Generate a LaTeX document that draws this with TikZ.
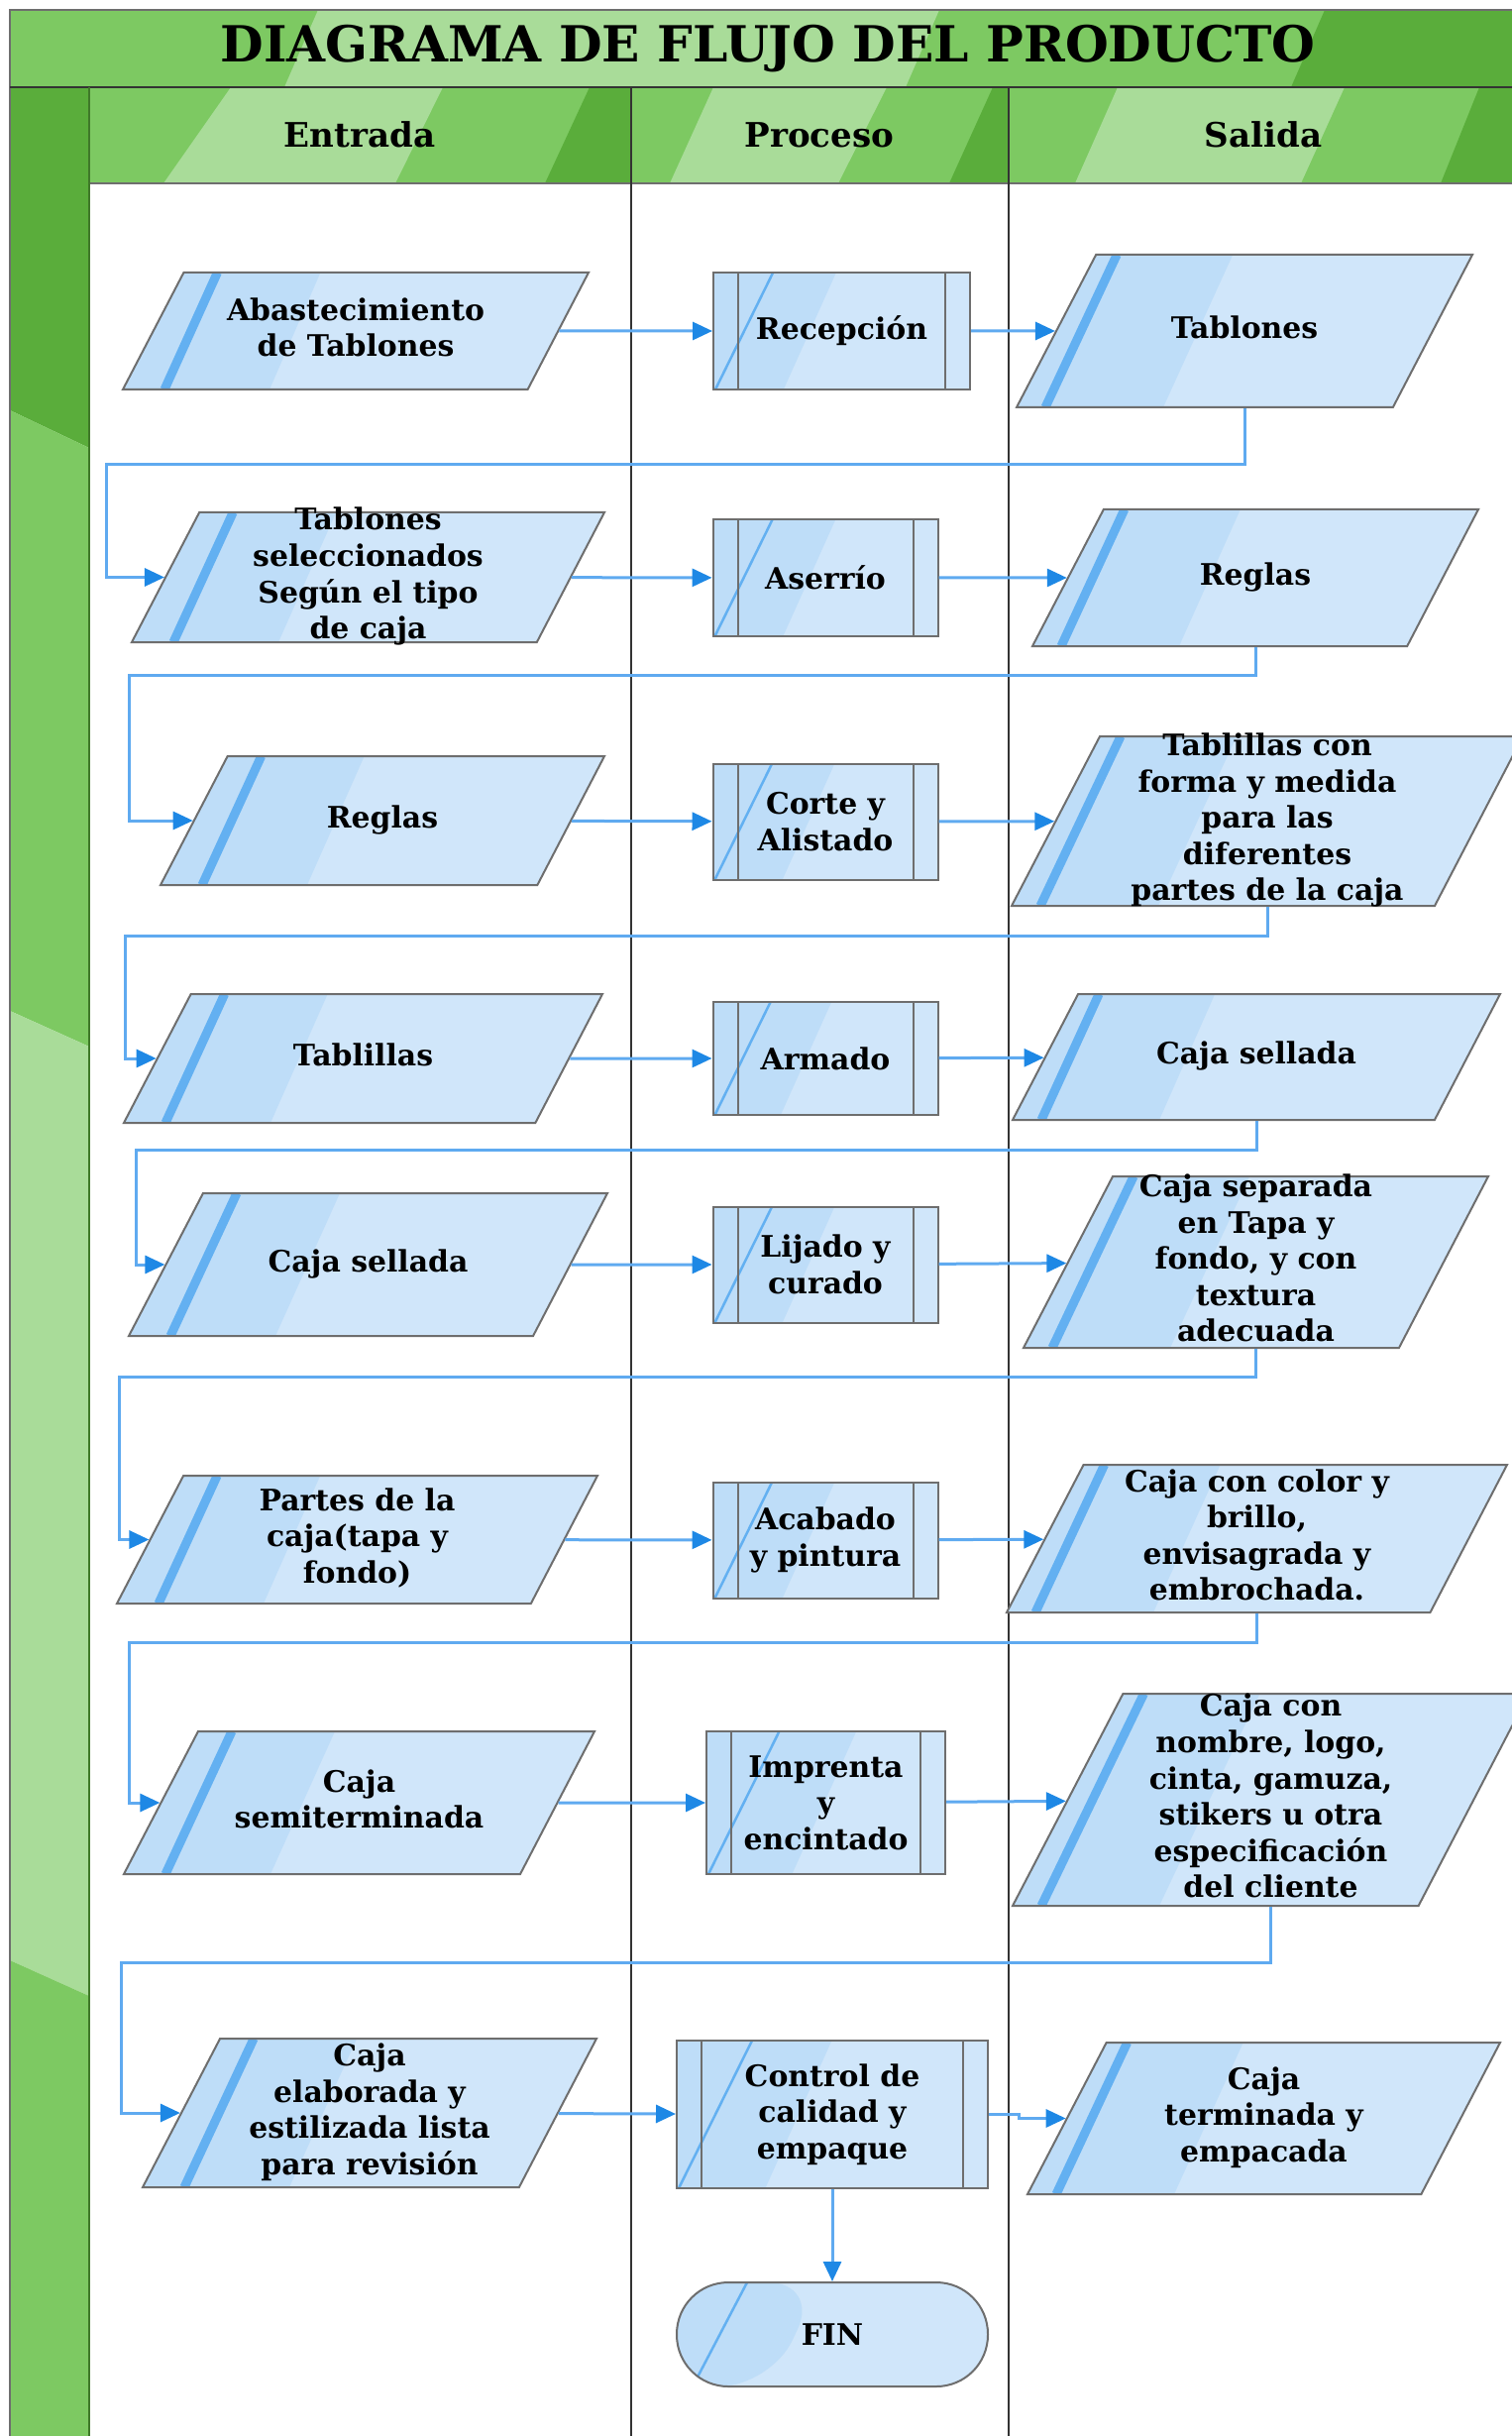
\documentclass[tikz,border=0pt]{standalone}
\usepackage{fontspec}
\setmainfont{DejaVu Serif}
\usepackage{xcolor}
\usepackage{tikz}
\usetikzlibrary{shapes.geometric, arrows.meta, calc}

\definecolor{verdemedio}{HTML}{7DC962}
\definecolor{verdeclaro}{HTML}{A9DC99}
\definecolor{verdeoscuro}{HTML}{5AAD3B}
\definecolor{azulclaro}{HTML}{D0E6FA}
\definecolor{azuloscuro}{HTML}{BEDDF8}
\definecolor{franja}{HTML}{63B0F1}
\definecolor{bordegris}{HTML}{6E6E6E}
\definecolor{linea}{HTML}{5FAAF0}
\definecolor{punta}{HTML}{1E88E5}

\newcommand{\textoformas}{\fontsize{8.5}{10.4}\selectfont\bfseries}
% text box of a fixed height, so the slanted sides keep their angle
\newcommand{\caja}[2]{\vbox to #1{\vss\hbox{\begin{tabular}{@{}c@{}}#2\end{tabular}}\vss}}

% shading inside the data shapes
\newcommand{\sombradatos}[1]{%
  \fill [azuloscuro] let \p1=(path picture bounding box.south west),
    \p2=(path picture bounding box.north east), \n1={0.5206*(\y2-\y1)} in
    (\x1-1mm,\y1) -- (\x1-1mm,\y2) -- (\x1+\n1+13.8mm,\y2) -- (\x1+14.8mm,\y1) -- cycle;
  \draw [franja, line width=0.9mm] let \p1=(path picture bounding box.south west),
    \p2=(path picture bounding box.north east), \n1={0.5206*(\y2-\y1)} in
    (\x1+#1,\y1) -- (\x1+\n1+#1-0.8mm,\y2);
}
% shading inside the process boxes
\newcommand{\sombraproceso}{%
  \fill [azuloscuro] let \p1=(path picture bounding box.south west),
    \p2=(path picture bounding box.north east), \n1={\y2-\y1} in
    (\x1,\y1) -- (\x1,\y2) -- (\x1+1.05*\n1,\y2) -- (\x1+0.6*\n1,\y1) -- cycle;
  \draw [franja, line width=0.25mm] let \p1=(path picture bounding box.south west),
    \p2=(path picture bounding box.north east), \n1={\y2-\y1} in
    (\x1+0.2mm,\y1) -- (\x1+0.51*\n1,\y2);
  \draw [bordegris, line width=0.2mm]
    ([xshift=2.5mm]path picture bounding box.south west) -- ([xshift=2.5mm]path picture bounding box.north west)
    ([xshift=-2.5mm]path picture bounding box.south east) -- ([xshift=-2.5mm]path picture bounding box.north east);
}
% shading inside the end terminal
\newcommand{\sombrafin}{%
  \fill [azuloscuro] let \p1=(path picture bounding box.south west),
    \p2=(path picture bounding box.north east) in
    (\x1,\y1) -- (\x1,\y2) -- (\x1+14.4mm,\y2) -- (\x1+9.5mm,\y1) -- cycle;
  \draw [franja, line width=0.25mm] let \p1=(path picture bounding box.south west),
    \p2=(path picture bounding box.north east) in
    (\x1+1.6mm,\y1) -- (\x1+7.1mm,\y2);
}

\tikzstyle{datos} = [trapezium, trapezium left angle=62.5, trapezium right angle=117.5, trapezium stretches body=true, inner sep=0pt, draw=bordegris, line width=0.2mm, fill=azulclaro, font=\textoformas]
\tikzstyle{entrada} = [datos, path picture={\sombradatos{4.2mm}}]
\tikzstyle{salida} = [datos, path picture={\sombradatos{2.9mm}}]
\tikzstyle{proceso} = [rectangle, inner sep=0pt, draw=bordegris, line width=0.2mm, fill=azulclaro, align=center, font=\textoformas, path picture={\sombraproceso}]
\tikzstyle{terminal} = [rectangle, rounded corners=5.2mm, inner sep=0pt, minimum width=31.4mm, minimum height=10.5mm, draw=bordegris, line width=0.2mm, fill=azulclaro, font=\textoformas, path picture={\sombrafin}]
\tikzstyle{flecha} = [line width=0.3mm, draw=linea, -{Triangle[length=2mm, width=1.8mm, color=punta]}]
\tikzstyle{marco} = [line width=0.2mm, draw=black!80]

\begin{document}
\begin{tikzpicture}[x=0.1mm, y=-0.1mm]
	\useasboundingbox (0,0) rectangle (1525,2458);
	\fill [white] (0,0) rectangle (1525,2458);
	
	% Title band
	\fill [verdemedio] (10,10) rectangle (1530,88);
	\fill [verdeclaro] (321,10) -- (948,10) -- (914,88) -- (287,88) -- cycle;
	\fill [verdeoscuro] (1337,10) -- (1530,10) -- (1530,88) -- (1303,88) -- cycle;
	
	% Lane headers
	\fill [verdemedio] (90,88) rectangle (1530,185);
	\fill [verdeclaro] (233,88) -- (447,88) -- (399,185) -- (165,185) -- cycle;
	\fill [verdeoscuro] (595,88) -- (637,88) -- (637,185) -- (550,185) -- cycle;
	\fill [verdeclaro] (720,88) -- (895,88) -- (846,185) -- (676,185) -- cycle;
	\fill [verdeoscuro] (1002,88) -- (1018,88) -- (1018,185) -- (958,185) -- cycle;
	\fill [verdeclaro] (1128,88) -- (1357,88) -- (1313,185) -- (1085,185) -- cycle;
	\fill [verdeoscuro] (1493,88) -- (1530,88) -- (1530,185) -- (1454,185) -- cycle;
	
	% Left strip
	\fill [verdeoscuro] (10,88) -- (90,88) -- (90,452) -- (10,414) -- cycle;
	\fill [verdemedio] (10,414) -- (90,452) -- (90,1056) -- (10,1020) -- cycle;
	\fill [verdeclaro] (10,1020) -- (90,1056) -- (90,2014) -- (10,1978) -- cycle;
	\fill [verdemedio] (10,1978) -- (90,2014) -- (90,2470) -- (10,2470) -- cycle;
	
	% Frame lines
	\draw [marco, draw=bordegris] (10,2470) -- (10,10) -- (1530,10);
	\draw [marco] (10,88) -- (1530,88);
	\draw [marco, draw=bordegris] (90,185) -- (1530,185);
	\draw [marco, draw=verdeoscuro!70!black] (90,88) -- (90,2470);
	\draw [marco] (637,88) -- (637,2470);
	\draw [marco] (1018,88) -- (1018,2470);
	
	% Titles
	\node (titulo) at (775,49) {\fontsize{14.3}{17}\selectfont\bfseries DIAGRAMA DE FLUJO DEL PRODUCTO};
	\node (hentrada) at (363,136) {\fontsize{9.7}{11}\selectfont\bfseries Entrada};
	\node (hproceso) at (827,136) {\fontsize{9.7}{11}\selectfont\bfseries Proceso};
	\node (hsalida) at (1275,136) {\fontsize{9.7}{11}\selectfont\bfseries Salida};
	
	% Entrada lane
	\node (in1) [entrada, minimum width=47mm] at (359,334) {\caja{11.8mm}{Abastecimiento\\de Tablones}};
	\node (in2) [entrada, minimum width=47.7mm] at (371.5,582.5) {\caja{13.1mm}{Tablones\\seleccionados\\Según el tipo\\de caja}};
	\node (in3) [entrada, minimum width=44.8mm] at (386,828) {\caja{13mm}{Reglas}};
	\node (in4) [entrada, minimum width=48.3mm] at (366.5,1068) {\caja{13mm}{Tablillas}};
	\node (in5) [entrada, minimum width=48.3mm] at (371.5,1276) {\caja{14.4mm}{Caja sellada}};
	\node (in6) [entrada, minimum width=48.5mm] at (360.5,1553.5) {\caja{12.9mm}{Partes de la\\caja(tapa y\\fondo)}};
	\node (in7) [entrada, minimum width=47.5mm] at (362.5,1819) {\caja{14.4mm}{Caja\\semiterminada}};
	\node (in8) [entrada, minimum width=45.8mm] at (373,2132) {\caja{15mm}{Caja\\elaborada y\\estilizada lista\\para revisión}};
	
	% Proceso lane
	\node (p1) [proceso, minimum width=25.9mm, minimum height=11.8mm] at (849.5,334) {Recepción};
	\node (p2) [proceso, minimum width=22.7mm, minimum height=11.8mm] at (833,583) {Aserrío};
	\node (p3) [proceso, minimum width=22.7mm, minimum height=11.7mm] at (833,829) {Corte y\\Alistado};
	\node (p4) [proceso, minimum width=22.7mm, minimum height=11.4mm] at (833,1068) {Armado};
	\node (p5) [proceso, minimum width=22.7mm, minimum height=11.7mm] at (833,1276) {Lijado y\\curado};
	\node (p6) [proceso, minimum width=22.7mm, minimum height=11.7mm] at (833,1554) {Acabado\\y pintura};
	\node (p7) [proceso, minimum width=24.1mm, minimum height=14.4mm] at (833.5,1819) {Imprenta\\y\\encintado};
	\node (p8) [proceso, minimum width=31.4mm, minimum height=14.9mm] at (840,2133.5) {Control de\\calidad y\\empaque};
	\node (fin) [terminal] at (840,2355.5) {FIN};
	
	% Salida lane
	\node (o1) [salida, minimum width=46mm] at (1256,334) {\caja{15.4mm}{Tablones}};
	\node (o2) [salida, minimum width=45mm] at (1267,583) {\caja{13.8mm}{Reglas}};
	\node (o3) [salida, minimum width=51.6mm] at (1279,828.5) {\caja{17.1mm}{Tablillas con\\forma y medida\\para las\\diferentes\\partes de la caja}};
	\node (o4) [salida, minimum width=49.2mm] at (1268,1066.5) {\caja{12.7mm}{Caja sellada}};
	\node (o5) [salida, minimum width=46.9mm] at (1267.5,1273.5) {\caja{17.3mm}{Caja separada\\en Tapa y\\fondo, y con\\textura\\adecuada}};
	\node (o6) [salida, minimum width=50.5mm] at (1268.5,1552.5) {\caja{14.9mm}{Caja con color y\\brillo,\\envisagrada y\\embrochada.}};
	\node (o7) [salida, minimum width=52.1mm] at (1282.5,1816) {\caja{21.4mm}{Caja con\\nombre, logo,\\cinta, gamuza,\\stikers u otra\\especificación\\del cliente}};
	\node (o8) [salida, minimum width=47.7mm] at (1275.5,2137.5) {\caja{15.3mm}{Caja\\terminada y\\empacada}};
	
	% Arrows along each row
	\draw [flecha] (in1) -- (p1);
	\draw [flecha] (p1) -- (o1);
	\draw [flecha] (in2) -- (p2);
	\draw [flecha] (p2) -- (o2);
	\draw [flecha] (in3) -- (p3);
	\draw [flecha] (p3) -- (o3);
	\draw [flecha] (in4) -- (p4);
	\draw [flecha] (p4) -- (o4);
	\draw [flecha] (in5) -- (p5);
	\draw [flecha] (p5) -- (o5);
	\draw [flecha] (in6) -- (p6);
	\draw [flecha] (p6) -- (o6);
	\draw [flecha] (in7) -- (p7);
	\draw [flecha] (p7) -- (o7);
	\draw [flecha] (in8) -- (p8);
	\draw [flecha] (p8.east) -- ++(30,0) |- (o8);
	\draw [flecha] (p8) -- (fin);
	
	% Return arrows from each output to the next input
	\draw [flecha] (o1.south) |- (107,469) |- (in2);
	\draw [flecha] (o2.south) |- (130,681) |- (in3);
	\draw [flecha] (o3.south) |- (126,944) |- (in4);
	\draw [flecha] (o4.south) |- (137,1160) |- (in5);
	\draw [flecha] (o5.south) |- (120,1389) |- (in6);
	\draw [flecha] (o6.south) |- (130,1657) |- (in7);
	\draw [flecha] (o7.south) |- (122,1980) |- (in8);
	
\end{tikzpicture}
\end{document}
